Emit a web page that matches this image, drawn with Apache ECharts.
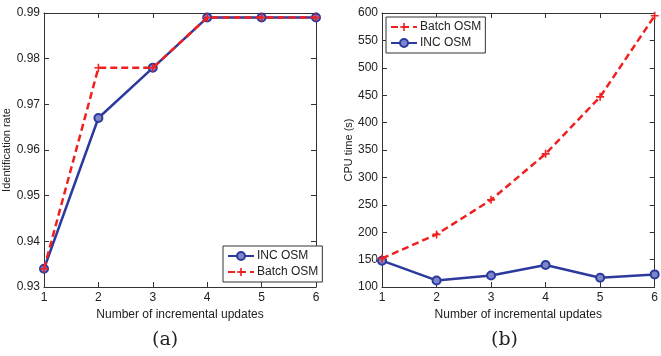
<!DOCTYPE html>
<html><head><meta charset="utf-8">
<script src="https://cdn.jsdelivr.net/npm/echarts@6/dist/echarts.min.js"></script>
<style>html,body{margin:0;padding:0;background:#fff}#c{width:661px;height:356px}</style>
</head><body><div id="c"></div>
<script>
const updates = [1, 2, 3, 4, 5, 6];
const incRate = [0.934, 0.967, 0.978, 0.989, 0.989, 0.989];
const batchRate = [0.934, 0.978, 0.978, 0.989, 0.989, 0.989];
const batchTime = [152, 196, 259, 343, 447, 595];
const incTime = [148, 112, 121, 140, 117, 123];
const xLabel = 'Number of incremental updates';
const yLabelA = 'Identification rate';
const yLabelB = 'CPU time (s)';

const BLUE = '#2b3a9c', RED = '#f02020';
const plus = 'path://M4,0H6V4H10V6H6V10H4V6H0V4H4Z';
const font = 'Liberation Sans';
const pair = (xs, ys) => xs.map((x, i) => [x, ys[i]]);

function incSeries(data, xi, yi) {
  return {name: 'INC OSM', type: 'line', xAxisIndex: xi, yAxisIndex: yi, data,
    symbol: 'circle', symbolSize: 8, z: 3,
    lineStyle: {color: BLUE, width: 2.5},
    itemStyle: {color: '#7d86c8', borderColor: BLUE, borderWidth: 2}};
}
function batchSeries(data, xi, yi) {
  return {name: 'Batch OSM', type: 'line', xAxisIndex: xi, yAxisIndex: yi, data,
    symbol: plus, symbolSize: 8, z: 4,
    lineStyle: {color: RED, width: 2.5, type: [7, 4]},
    itemStyle: {color: RED}};
}
const tickStyle = {show: true, inside: true, length: 5, lineStyle: {color: '#333', width: 1}};
function xAx(gi, pos, labels) {
  return {type: 'value', gridIndex: gi, position: pos, min: 1, max: 6, interval: 1,
    name: labels ? xLabel : '', nameLocation: 'middle', nameGap: 19,
    nameTextStyle: {fontFamily: font, fontSize: 12, color: '#222'},
    axisLine: {show: true, onZero: false, lineStyle: {color: '#333', width: 1}},
    axisTick: tickStyle, splitLine: {show: false},
    axisLabel: {show: labels, fontFamily: font, fontSize: 12, color: '#222', margin: 5}};
}
function yAx(gi, pos, labels, min, max, interval, name, fmt, gap) {
  return {type: 'value', gridIndex: gi, position: pos, min, max, interval,
    name: labels ? name : '', nameLocation: 'middle', nameGap: gap, nameRotate: 90,
    nameTextStyle: {fontFamily: font, fontSize: 11, color: '#222'},
    axisLine: {show: true, onZero: false, lineStyle: {color: '#333', width: 1}},
    axisTick: tickStyle, splitLine: {show: false},
    axisLabel: {show: labels, fontFamily: font, fontSize: 12, color: '#222', margin: 4, formatter: fmt}};
}
const legendBase = {orient: 'vertical', backgroundColor: '#fff', borderColor: '#333', borderWidth: 1,
  padding: [4, 4], itemGap: 4, itemWidth: 26, itemHeight: 10,
  textStyle: {fontFamily: font, fontSize: 12, color: '#222', padding: [0, 0, 0, -2]}};

const option = {
  animation: false,
  grid: [
    {left: 43, top: 13, width: 273, height: 274},
    {left: 382, top: 13, width: 276, height: 274}
  ],
  xAxis: [xAx(0, 'bottom', true), xAx(0, 'top', false), xAx(1, 'bottom', true), xAx(1, 'top', false)],
  yAxis: [
    yAx(0, 'left', true, 0.93, 0.99, 0.01, yLabelA, v => v.toFixed(2), 32),
    yAx(0, 'right', false, 0.93, 0.99, 0.01, '', null, 0),
    yAx(1, 'left', true, 100, 600, 50, yLabelB, null, 27),
    yAx(1, 'right', false, 100, 600, 50, '', null, 0)
  ],
  legend: [
    Object.assign({}, legendBase, {data: ['INC OSM', 'Batch OSM'], left: 223, top: 246}),
    Object.assign({}, legendBase, {data: ['Batch OSM', 'INC OSM'], left: 386, top: 17})
  ],
  series: [
    batchSeries(pair(updates, batchRate), 0, 0),
    incSeries(pair(updates, incRate), 0, 0),
    batchSeries(pair(updates, batchTime), 2, 2),
    incSeries(pair(updates, incTime), 2, 2)
  ],
  graphic: [
    {type: 'text', left: 152, top: 331, style: {text: '(a)', font: '19px "DejaVu Serif"', fill: '#222'}},
    {type: 'text', left: 491, top: 331, style: {text: '(b)', font: '19px "DejaVu Serif"', fill: '#222'}}
  ]
};
const chart = echarts.init(document.getElementById('c'), null, {renderer: 'canvas'});
chart.setOption(option);
</script></body></html>
